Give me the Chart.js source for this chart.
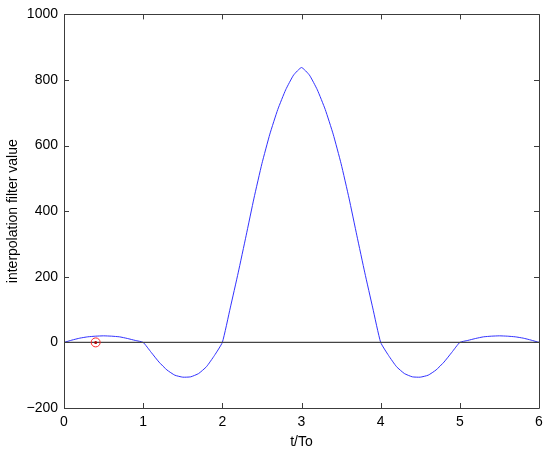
<!DOCTYPE html>
<html>
<head>
<meta charset="utf-8">
<script src="https://cdn.jsdelivr.net/npm/chart.js@4/dist/chart.umd.min.js"></script>
<style>
  html, body { margin: 0; padding: 0; background: #fff; }
  #wrap { width: 550px; height: 454px; position: relative; }
</style>
</head>
<body>
<div id="wrap"><canvas id="filterChart"></canvas></div>
<script>
// sample times (t/To) and the filter value
const tValues = [
  0.0, 0.1, 0.2, 0.3, 0.4, 0.5, 0.6, 0.7, 0.8, 0.9,
  1.0, 1.1, 1.2, 1.3, 1.4, 1.5, 1.6, 1.7, 1.8, 1.9,
  2.0, 2.1, 2.2, 2.3, 2.4, 2.5, 2.6, 2.7, 2.8, 2.9,
  3.0, 3.1, 3.2, 3.3, 3.4, 3.5, 3.6, 3.7, 3.8, 3.9,
  4.0, 4.1, 4.2, 4.3, 4.4, 4.5, 4.6, 4.7, 4.8, 4.9,
  5.0, 5.1, 5.2, 5.3, 5.4, 5.5, 5.6, 5.7, 5.8, 5.9, 6.0
];
const filterValues = [
  0, 7, 13, 17, 19, 20, 19, 17, 12, 6,
  0, -30, -60, -84, -100, -106, -105, -95, -74, -40,
  0, 105, 212, 325, 440, 545, 635, 710, 770, 815,
  838, 815, 770, 710, 635, 545, 440, 325, 212, 105,
  0, -40, -74, -95, -105, -106, -100, -84, -60, -30,
  0, 6, 12, 17, 19, 20, 19, 17, 13, 7, 0
];
// zero reference line and the marked sample
const zeroLineT = [0, 6];
const zeroLineV = [0, 0];
const markerT = [0.4];
const markerV = [0];

const xTicks = [0, 1, 2, 3, 4, 5, 6];
const yTicks = [-200, 0, 200, 400, 600, 800, 1000];

const toXY = (xs, ys) => xs.map((x, i) => ({ x: x, y: ys[i] }));

// MATLAB style box with inward ticks on all four sides
const boxPlugin = {
  id: 'box',
  afterDatasetsDraw(chart) {
    const { ctx, chartArea: a, scales } = chart;
    const len = 5;
    ctx.save();
    ctx.strokeStyle = '#3c3c3c';
    ctx.lineWidth = 1;
    ctx.beginPath();
    ctx.rect(Math.round(a.left) + 0.5, Math.round(a.top) + 0.5,
             Math.round(a.right - a.left), Math.round(a.bottom - a.top));
    xTicks.forEach(v => {
      const px = Math.round(scales.x.getPixelForValue(v)) + 0.5;
      ctx.moveTo(px, a.bottom); ctx.lineTo(px, a.bottom - len);
      ctx.moveTo(px, a.top); ctx.lineTo(px, a.top + len);
    });
    yTicks.forEach(v => {
      const py = Math.round(scales.y.getPixelForValue(v)) + 0.5;
      ctx.moveTo(a.left, py); ctx.lineTo(a.left + len, py);
      ctx.moveTo(a.right, py); ctx.lineTo(a.right - len, py);
    });
    ctx.stroke();
    ctx.restore();
  }
};

const font = { family: 'Arial, "Liberation Sans", sans-serif', size: 14 };

const ctx = document.getElementById('filterChart').getContext('2d');
const chart = new Chart(ctx, {
  type: 'line',
  data: {
    datasets: [
      {
        data: toXY(tValues, filterValues),
        borderColor: 'rgb(50,50,255)',
        borderWidth: 1,
        pointRadius: 0,
        tension: 0.15,
        fill: false,
        order: 3
      },
      {
        data: toXY(zeroLineT, zeroLineV),
        borderColor: '#444',
        borderWidth: 1.2,
        pointRadius: 0,
        fill: false,
        order: 2
      },
      {
        data: toXY(markerT, markerV),
        showLine: false,
        pointStyle: 'circle',
        pointRadius: 4.5,
        pointBorderWidth: 1,
        pointBorderColor: 'rgb(255,40,40)',
        pointBackgroundColor: 'rgba(0,0,0,0)',
        order: 1
      },
      {
        data: toXY(markerT, markerV),
        showLine: false,
        pointRadius: 1.5,
        pointBorderWidth: 0,
        pointBackgroundColor: 'rgb(170,0,0)',
        order: 0
      }
    ]
  },
  options: {
    responsive: true,
    maintainAspectRatio: false,
    animation: false,
    layout: { padding: { top: 11, right: 11, left: 0, bottom: 0 } },
    plugins: {
      legend: { display: false },
      tooltip: { enabled: false }
    },
    scales: {
      x: {
        type: 'linear',
        min: 0,
        max: 6,
        afterBuildTicks: s => { s.ticks = xTicks.map(v => ({ value: v })); },
        afterFit: s => { s.height = 46; },
        grid: { display: false, drawTicks: false },
        border: { display: false },
        ticks: { color: '#000', font: font, padding: 6, maxRotation: 0 },
        title: { display: true, text: 't/To', color: '#000', font: font, padding: { top: 0, bottom: 3 } }
      },
      y: {
        type: 'linear',
        min: -200,
        max: 1000,
        afterBuildTicks: s => { s.ticks = yTicks.map(v => ({ value: v })); },
        afterFit: s => { s.width = 64; },
        grid: { display: false, drawTicks: false },
        border: { display: false },
        ticks: {
          color: '#000',
          font: font,
          padding: 6,
          callback: v => v < 0 ? '\u2212' + Math.abs(v) : String(v)
        },
        title: { display: true, text: 'interpolation filter value', color: '#000', font: font, padding: { top: 5, bottom: 0 } }
      }
    }
  },
  plugins: [boxPlugin]
});
</script>
</body>
</html>
